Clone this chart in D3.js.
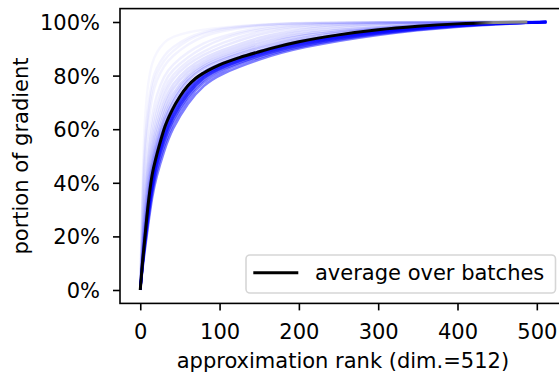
<!DOCTYPE html>
<html>
<head>
<meta charset="utf-8">
<script src="https://cdn.jsdelivr.net/npm/d3@7"></script>
<style>
  html, body { margin: 0; padding: 0; background: #fff; }
  svg { display: block; font-family: "DejaVu Sans", sans-serif; }
</style>
</head>
<body>
<svg id="chart" width="559" height="375"></svg>
<script>
// ---- data ----
const xTicks = [0, 100, 200, 300, 400, 500];
const yTicks = [0, 0.2, 0.4, 0.6, 0.8, 1.0];
const xLabel = "approximation rank (dim.=512)";
const yLabel = "portion of gradient";
const legendLabel = "average over batches";

// average curve
const avgRanks  = [0, 2, 5, 10, 15, 20, 25, 30, 40, 50, 60, 70, 80, 100, 125, 150, 175, 200, 250, 300, 350, 400, 450, 488];
const avgValues = [0, .075, .17, .32, .43, .495, .55, .60, .67, .722, .762, .79, .81, .84, .867, .889, .909, .926, .952, .971, .984, .993, .998, 1.0];

// individual batch curves (sampled at batchRanks)
const batchRanks = [0, 3, 6, 10, 15, 20, 30, 40, 60, 80, 100, 150, 200, 300, 400, 512];
const batchValues = [
  [0,.085,.155,.245,.35,.42,.52,.60,.70,.765,.805,.862,.905,.955,.985,1],
  [0,.09,.165,.26,.365,.44,.54,.618,.715,.778,.815,.87,.91,.958,.987,1],
  [0,.095,.175,.275,.38,.455,.555,.632,.727,.788,.823,.875,.914,.961,.988,1],
  [0,.098,.18,.283,.39,.465,.565,.64,.735,.794,.827,.879,.917,.963,.989,1],
  [0,.10,.185,.29,.397,.472,.572,.647,.74,.798,.83,.882,.92,.965,.99,1],
  [0,.103,.19,.298,.405,.48,.58,.655,.747,.802,.834,.885,.923,.967,.99,1],
  [0,.106,.195,.308,.412,.488,.59,.662,.754,.806,.837,.888,.926,.969,.991,1],
  [0,.11,.20,.32,.42,.495,.60,.67,.762,.812,.841,.89,.928,.97,.992,1],
  [0,.115,.21,.33,.435,.51,.612,.68,.77,.817,.846,.894,.932,.973,.993,1],
  [0,.125,.227,.35,.46,.53,.632,.70,.788,.83,.857,.905,.943,.978,.995,1],
  [0,.13,.24,.365,.475,.545,.645,.714,.797,.837,.864,.914,.952,.98,.995,1],
  [0,.137,.254,.38,.49,.56,.663,.732,.806,.845,.872,.924,.958,.982,.996,1],
  [0,.148,.275,.405,.51,.585,.683,.752,.818,.855,.882,.935,.965,.99,.998,1],
  [0,.16,.30,.428,.533,.608,.703,.768,.83,.866,.892,.945,.975,.995,.999,1],
  [0,.175,.326,.457,.558,.632,.73,.787,.844,.878,.906,.958,.982,.996,1,1],
  [0,.19,.35,.482,.585,.657,.753,.802,.856,.89,.92,.968,.988,.997,1,1],
  [0,.213,.378,.51,.617,.685,.776,.82,.87,.906,.937,.975,.99,.999,1,1],
  [0,.245,.42,.55,.652,.725,.80,.84,.888,.922,.945,.982,.994,1,1,1],
  [0,.32,.495,.62,.725,.78,.838,.872,.918,.948,.966,.988,.996,1,1,1],
  [0,.355,.535,.664,.757,.806,.858,.89,.935,.958,.972,.99,.997,1,1,1],
  [0,.395,.57,.695,.785,.826,.876,.905,.943,.963,.976,.991,.997,1,1,1],
  [0,.45,.66,.78,.85,.885,.925,.945,.962,.972,.979,.99,.996,.999,1,1]
];

// ---- layout ----
const svg = d3.select("#chart");
const pLeft = 120, pTop = 8.6, pBottom = 303.4, pRight = 565.8;
const x = d3.scaleLinear().domain([-25.55, 536.55]).range([pLeft, pRight]);
const y = d3.scaleLinear().domain([-0.05, 1.05]).range([pBottom, pTop]);
const FS = 21;

const plot = svg.append("g");

// opacity of each batch line: dense near/below the average, faint for fast-rising ones
const opac = d3.scaleLinear().domain([0.6, 0.64, 0.75, 0.93]).range([0.5, 0.17, 0.07, 0.035]).clamp(true);

const batchLine = d3.line().curve(d3.curveBasis).x(d => x(d[0])).y(d => y(d[1]));
const avgLine = d3.line().curve(d3.curveMonotoneX).x(d => x(d[0])).y(d => y(d[1]));

batchValues.forEach(vals => {
  const pts = batchRanks.map((r, i) => [r, vals[i]]);
  plot.append("path")
    .attr("d", batchLine(pts))
    .attr("fill", "none")
    .attr("stroke", "#0000ff")
    .attr("stroke-opacity", opac(vals[6]))
    .attr("stroke-width", 2.5);
});

// gradient to mimic the greyish end of the average line
const defs = svg.append("defs");
const grad = defs.append("linearGradient").attr("id", "avgGrad")
  .attr("gradientUnits", "userSpaceOnUse")
  .attr("x1", x(420)).attr("x2", x(445)).attr("y1", 0).attr("y2", 0);
grad.append("stop").attr("offset", 0).attr("stop-color", "#000");
grad.append("stop").attr("offset", 1).attr("stop-color", "#888");

plot.append("path")
  .attr("d", avgLine(avgRanks.map((r, i) => [r, avgValues[i]])))
  .attr("fill", "none")
  .attr("stroke", "url(#avgGrad)")
  .attr("stroke-width", 3);

// ---- axes ----
const xAxis = svg.append("g").attr("transform", `translate(0,${pBottom})`)
  .call(d3.axisBottom(x).tickValues(xTicks).tickSize(7).tickSizeOuter(0).tickFormat(d3.format("d")));
xAxis.select(".domain").remove();
xAxis.selectAll(".tick line").attr("stroke", "#000").attr("stroke-width", 1.6);
xAxis.selectAll(".tick text").attr("y", 36).attr("dy", 0)
  .attr("font-size", FS).attr("font-family", "DejaVu Sans").attr("fill", "#000");

const yAxis = svg.append("g").attr("transform", `translate(${pLeft},0)`)
  .call(d3.axisLeft(y).tickValues(yTicks).tickSize(7).tickSizeOuter(0).tickFormat(d => Math.round(d * 100) + "%"));
yAxis.select(".domain").remove();
yAxis.selectAll(".tick line").attr("stroke", "#000").attr("stroke-width", 1.6);
yAxis.selectAll(".tick text").attr("x", -20).attr("dy", 0).attr("y", 7.5)
  .attr("font-size", FS).attr("font-family", "DejaVu Sans").attr("fill", "#000");

// spines
svg.append("rect")
  .attr("x", pLeft).attr("y", pTop)
  .attr("width", pRight - pLeft).attr("height", pBottom - pTop)
  .attr("fill", "none").attr("stroke", "#000").attr("stroke-width", 1.6);

// axis labels
svg.append("text")
  .attr("x", (pLeft + pRight) / 2).attr("y", 368.3)
  .attr("text-anchor", "middle").attr("font-size", FS).attr("fill", "#000")
  .text(xLabel);
svg.append("text")
  .attr("transform", `translate(28.3,${(pTop + pBottom) / 2}) rotate(-90)`)
  .attr("text-anchor", "middle").attr("font-size", FS).attr("fill", "#000")
  .text(yLabel);

// ---- legend ----
const lg = svg.append("g");
lg.append("rect")
  .attr("x", 246).attr("y", 255).attr("width", 309.5).attr("height", 38)
  .attr("rx", 4).attr("ry", 4)
  .attr("fill", "#fff").attr("fill-opacity", 0.8)
  .attr("stroke", "#d6d6d6").attr("stroke-width", 1.6);
lg.append("line")
  .attr("x1", 253.3).attr("x2", 298.3).attr("y1", 272.7).attr("y2", 272.7)
  .attr("stroke", "#000").attr("stroke-width", 3);
lg.append("text")
  .attr("x", 315).attr("y", 280).attr("font-size", FS).attr("fill", "#000")
  .text(legendLabel);
</script>
</body>
</html>
